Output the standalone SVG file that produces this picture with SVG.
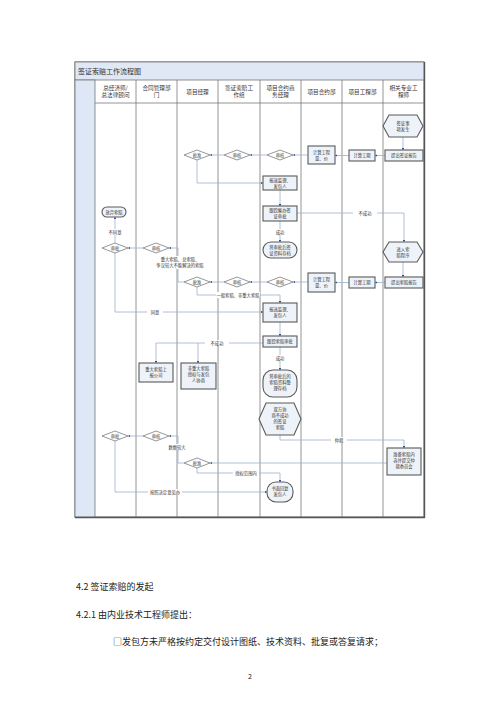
<svg xmlns="http://www.w3.org/2000/svg" width="500" height="707" viewBox="0 0 500 707">
<defs>
<marker id="ah" viewBox="0 0 6 6" refX="5.5" refY="3" markerWidth="3.2" markerHeight="3.2" orient="auto">
<path d="M0,0 L6,3 L0,6 z" fill="#2f4f8f"/>
</marker>
</defs>
<style>
.t{font-family:"Noto Sans CJK SC","Noto Sans",sans-serif;fill:#333;text-anchor:middle}
.n{font-size:4.3px}
.h{font-size:5.6px}
.lane{stroke:#7a7a7a;stroke-width:0.8;fill:none}
.box{fill:#eef3fa;stroke:#5a5a5a;stroke-width:1.1}
.dia{fill:#fff;stroke:#6a6a6a;stroke-width:0.7}
.ln{fill:none;stroke:#9eb0cc;stroke-width:0.8}
.a{marker-end:url(#ah)}
.lb{fill:#fff}
.body{font-family:"Noto Sans CJK SC","Noto Sans",sans-serif;fill:#222;font-size:9px}
</style>
<rect width="500" height="707" fill="#fff"/>

<g id="frame">
<rect x="75" y="62" width="349" height="455" fill="#fff" stroke="#666" stroke-width="1"/>
<rect x="75" y="62" width="349" height="18" fill="#dfe8f4" stroke="#777" stroke-width="0.8"/>
<rect x="75" y="80" width="20" height="437" fill="#dde7f5" stroke="#777" stroke-width="0.8"/>
<path d="M75,517.5 H424.5 V62" fill="none" stroke="#555" stroke-width="1.4"/>
<line class="lane" x1="95" y1="103" x2="424" y2="103"/>
<line class="lane" x1="136" y1="80" x2="136" y2="517"/>
<line class="lane" x1="177" y1="80" x2="177" y2="517"/>
<line class="lane" x1="218" y1="80" x2="218" y2="517"/>
<line class="lane" x1="260" y1="80" x2="260" y2="517"/>
<line class="lane" x1="301" y1="80" x2="301" y2="517"/>
<line class="lane" x1="342" y1="80" x2="342" y2="517"/>
<line class="lane" x1="383" y1="80" x2="383" y2="517"/>
<text class="t" x="78" y="74" style="text-anchor:start;font-size:7px">签证索赔工作流程图</text>
<text class="t h" x="115.5" y="90">总经济师/</text><text class="t h" x="115.5" y="97">总法律顾问</text>
<text class="t h" x="156.5" y="90">合同管理部</text><text class="t h" x="156.5" y="97">门</text>
<text class="t h" x="197.5" y="94">项目经理</text>
<text class="t h" x="239" y="90">签证索赔工</text><text class="t h" x="239" y="97">作组</text>
<text class="t h" x="280.5" y="90">项目合约商</text><text class="t h" x="280.5" y="97">务经理</text>
<text class="t h" x="321.5" y="94">项目合约部</text>
<text class="t h" x="362.5" y="94">项目工程部</text>
<text class="t h" x="403.5" y="90">相关专业工</text><text class="t h" x="403.5" y="97">程师</text>
</g>

<g id="connectors">
<path class="ln a" d="M403,137 V150"/>
<path class="ln a" d="M385,155.5 H375"/>
<path class="ln a" d="M349,155.5 H335"/>
<path class="ln a" d="M308,155 H293"/>
<path class="ln a" d="M267,155 H250"/>
<path class="ln a" d="M224,155 H210"/>
<path class="ln a" d="M197,160 V183 H263"/>
<path class="ln a" d="M280,190 V206"/>
<path class="ln a" d="M297,213 H404 V242"/>
<path class="ln a" d="M280,221 V242"/>
<path class="ln a" d="M403,262 V277"/>
<path class="ln a" d="M385,282.5 H375"/>
<path class="ln a" d="M349,282.5 H335"/>
<path class="ln a" d="M308,282 H293"/>
<path class="ln a" d="M267,282 H250"/>
<path class="ln a" d="M224,282 H210"/>
<path class="ln a" d="M184,282 H178 V248 H169"/>
<path class="ln a" d="M143,248 H128"/>
<path class="ln a" d="M115,243 V217"/>
<path class="ln a" d="M115,253 V312 H263"/>
<path class="ln a" d="M197,287 V295 H280 V303"/>
<path class="ln a" d="M280,322 V336"/>
<path class="ln a" d="M263,343 H156 V363"/>
<path class="ln a" d="M198,343 V363"/>
<path class="ln a" d="M280,347 V370"/>
<path class="ln a" d="M280,435 V440 H404 V448"/>
<path class="ln a" d="M387,463 H210"/>
<path class="ln a" d="M184,463 H178 V436 H169"/>
<path class="ln a" d="M143,436 H128"/>
<path class="ln a" d="M197,468 V473 H280 V482"/>
<path class="ln a" d="M115,441 V492 H267"/>
<rect class="lb" x="353" y="210" width="24" height="6"/>
<text class="t n" x="365" y="214.5">不成功</text>
<rect class="lb" x="272" y="229" width="16" height="6"/>
<text class="t n" x="280" y="233.5">成功</text>
<rect class="lb" x="105" y="229" width="20" height="6"/>
<text class="t n" x="115" y="233.5">不同意</text>
<rect class="lb" x="147" y="309" width="16" height="6"/>
<text class="t n" x="155" y="313.5">同意</text>
<rect class="lb" x="152" y="256" width="58" height="13"/>
<text class="t n" x="180" y="261">重大索赔、总索赔、</text>
<text class="t n" x="180" y="267">争议较大不能解决的索赔</text>
<rect class="lb" x="216" y="292" width="44" height="6"/>
<text class="t n" x="238" y="296.5">一般索赔、非重大索赔</text>
<rect class="lb" x="205" y="340" width="24" height="6"/>
<text class="t n" x="217" y="344.5">不成功</text>
<rect class="lb" x="272" y="355" width="16" height="6"/>
<text class="t n" x="280" y="359.5">成功</text>
<rect class="lb" x="331" y="437" width="16" height="6"/>
<text class="t n" x="339" y="441.5">仲裁</text>
<rect class="lb" x="166" y="444" width="22" height="6"/>
<text class="t n" x="177" y="448.5">数额较大</text>
<rect class="lb" x="233" y="470" width="26" height="6"/>
<text class="t n" x="246" y="474.5">授权范围内</text>
<rect class="lb" x="148" y="489" width="34" height="6"/>
<text class="t n" x="165" y="493.5">按照决定意见办</text>
</g>

<g id="n-qzfs"><polygon class="box" points="389,115 417,115 423,126 417,137 389,137 383,126"/><text class="t n" x="403" y="125">签证事</text><text class="t n" x="403" y="131">项发生</text></g>
<g id="n-tcqzbg"><rect class="box" x="385" y="150" width="38" height="11"/><text class="t n" x="404" y="157">提出签证报告</text></g>
<g id="n-jsgq1"><rect class="box" x="349" y="150" width="26" height="11"/><text class="t n" x="362" y="157">计算工期</text></g>
<g id="n-jsgcl1"><rect class="box" x="308" y="146" width="27" height="18"/><text class="t n" x="321.5" y="154">计算工程</text><text class="t n" x="321.5" y="160">量、价</text></g>
<g id="n-sh1a"><polygon class="dia" points="267,155 280,150 293,155 280,160"/><text class="t n" x="280" y="156.5">审核</text></g>
<g id="n-sh1b"><polygon class="dia" points="224,155 237,150 250,155 237,160"/><text class="t n" x="237" y="156.5">审核</text></g>
<g id="n-pz1"><polygon class="dia" points="184,155 197,150 210,155 197,160"/><text class="t n" x="197" y="156.5">批准</text></g>
<g id="n-bs1"><rect class="box" x="263" y="176" width="34" height="14"/><text class="t n" x="280" y="182">报送监理、</text><text class="t n" x="280" y="187.5">发包人</text></g>
<g id="n-gz1"><rect class="box" x="263" y="206" width="34" height="15"/><text class="t n" x="280" y="212">跟踪催办签</text><text class="t n" x="280" y="218">证审批</text></g>
<g id="n-cd1"><rect class="box" x="263" y="242" width="34" height="16" rx="8"/><text class="t n" x="280" y="249">将审批后签</text><text class="t n" x="280" y="255">证资料存档</text></g>
<g id="n-fq"><rect class="box" x="102" y="207" width="24" height="10" rx="5"/><text class="t n" x="114" y="213.5">放弃索赔</text></g>

<g id="n-jrsp"><polygon class="box" points="389,242 417,242 423,252 417,262 389,262 383,252"/><text class="t n" x="403" y="251">进入索</text><text class="t n" x="403" y="257">赔程序</text></g>
<g id="n-tcspbg"><rect class="box" x="385" y="277" width="38" height="11"/><text class="t n" x="404" y="284">提出索赔报告</text></g>
<g id="n-jsgq2"><rect class="box" x="349" y="277" width="26" height="11"/><text class="t n" x="362" y="284">计算工期</text></g>
<g id="n-jsgcl2"><rect class="box" x="308" y="273" width="27" height="19"/><text class="t n" x="321.5" y="281">计算工程</text><text class="t n" x="321.5" y="287">量、价</text></g>
<g id="n-sh2a"><polygon class="dia" points="267,282 280,277 293,282 280,287"/><text class="t n" x="280" y="283.5">审核</text></g>
<g id="n-sh2b"><polygon class="dia" points="224,282 237,277 250,282 237,287"/><text class="t n" x="237" y="283.5">审核</text></g>
<g id="n-pz2"><polygon class="dia" points="184,282 197,277 210,282 197,287"/><text class="t n" x="197" y="283.5">批准</text></g>
<g id="n-htsh2"><polygon class="dia" points="143,248 156,243 169,248 156,253"/><text class="t n" x="156" y="249.5">审核</text></g>
<g id="n-sp2"><polygon class="dia" points="102,248 115,243 128,248 115,253"/><text class="t n" x="115" y="249.5">审批</text></g>
<g id="n-bs2"><rect class="box" x="263" y="303" width="34" height="19"/><text class="t n" x="280" y="311">报送监理、</text><text class="t n" x="280" y="317">发包人</text></g>
<g id="n-gz2"><rect class="box" x="263" y="336" width="34" height="11"/><text class="t n" x="280" y="343">跟踪索赔审批</text></g>
<g id="n-zdsb"><rect class="box" x="139" y="363" width="34" height="19"/><text class="t n" x="156" y="371">重大索赔上</text><text class="t n" x="156" y="377">报公司</text></g>
<g id="n-fzd"><rect class="box" x="181" y="363" width="35" height="26"/><text class="t n" x="198.5" y="370">非重大索赔</text><text class="t n" x="198.5" y="376">授权与发包</text><text class="t n" x="198.5" y="382">人协商</text></g>
<g id="n-cd2"><rect class="box" x="263" y="370" width="34" height="27" rx="10"/><text class="t n" x="280" y="378">将审批后的</text><text class="t n" x="280" y="384">索赔资料整</text><text class="t n" x="280" y="390">理存档</text></g>

<g id="n-xsbcg"><polygon class="box" points="266,403 294,403 301,419 294,435 266,435 259,419"/><text class="t n" x="280" y="411">双方协</text><text class="t n" x="280" y="417">商不成功</text><text class="t n" x="280" y="423">的签证</text><text class="t n" x="280" y="429">索赔</text></g>
<g id="n-zc"><rect class="box" x="387" y="448" width="34" height="27"/><text class="t n" x="404" y="456">准备索赔内</text><text class="t n" x="404" y="462">容并提交仲</text><text class="t n" x="404" y="468">裁委员会</text></g>
<g id="n-pz3"><polygon class="dia" points="184,463 197,458 210,463 197,468"/><text class="t n" x="197" y="464.5">批准</text></g>
<g id="n-htsh3"><polygon class="dia" points="143,436 156,431 169,436 156,441"/><text class="t n" x="156" y="437.5">审核</text></g>
<g id="n-sp3"><polygon class="dia" points="102,436 115,431 128,436 115,441"/><text class="t n" x="115" y="437.5">审批</text></g>
<g id="n-sm"><rect class="box" x="267" y="482" width="26" height="20" rx="9"/><text class="t n" x="280" y="490">书面回复</text><text class="t n" x="280" y="496">发包人</text></g>

<g id="bodytext">
<text class="body" x="76" y="590">4.2 签证索赔的发起</text>
<text class="body" x="76" y="618">4.2.1 由内业技术工程师提出：</text>
<text class="body" x="113" y="645">□发包方未严格按约定交付设计图纸、技术资料、批复或答复请求；</text>
<text class="body" x="250" y="679" style="font-size:7px;text-anchor:middle">2</text>
</g>
</svg>
